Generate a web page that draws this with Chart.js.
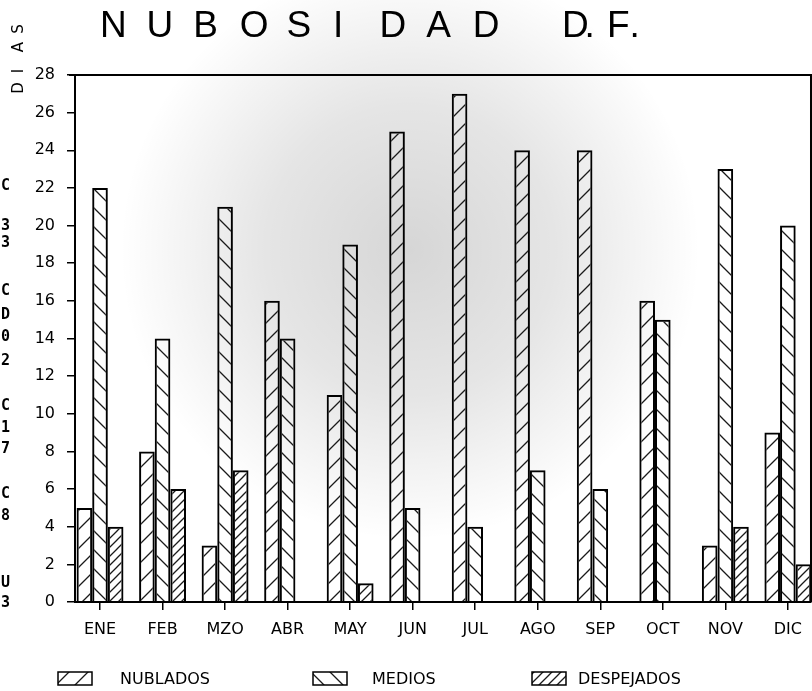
<!DOCTYPE html>
<html>
<head>
<meta charset="utf-8">
<script src="https://cdn.jsdelivr.net/npm/chart.js@4"></script>
<style>
html, body { margin: 0; padding: 0; background: #fff; }
</style>
</head>
<body>
<canvas id="canva_nubes" width="812" height="691"></canvas>
<script>
var meses = ['ENE', 'FEB', 'MZO', 'ABR', 'MAY', 'JUN', 'JUL', 'AGO', 'SEP', 'OCT', 'NOV', 'DIC'];
var nublados = [5, 8, 3, 16, 11, 25, 27, 24, 24, 16, 3, 9];
var medios = [22, 14, 21, 14, 19, 5, 4, 7, 6, 15, 23, 20];
var despejados = [4, 6, 7, 0, 1, 0, 0, 0, 0, 0, 4, 2];
var marcasY = [0, 2, 4, 6, 8, 10, 12, 14, 16, 18, 20, 22, 24, 26, 28];
var series = ['NUBLADOS', 'MEDIOS', 'DESPEJADOS'];
var titulo = 'NUBOSIDAD';
var subtitulo = 'D.F.';
var ejeY = 'DIAS';
// letras del borde de la hoja de al lado (se ven en el escaneo)
var bordeTxt = ['C', '3', '3', 'C', 'D', '0', '2', 'C', '1', '7', 'C', '8', 'U', '3'];

// rayados tipo plotter
function rayado(tam, sentido, grosor) {
    var c = document.createElement('canvas');
    c.width = tam; c.height = tam;
    var g = c.getContext('2d');
    g.strokeStyle = '#1a1a1a';
    g.lineWidth = grosor;
    g.beginPath();
    if (sentido > 0) {
        g.moveTo(0, tam); g.lineTo(tam, 0);
        g.moveTo(-2, 2); g.lineTo(2, -2);
        g.moveTo(tam - 2, tam + 2); g.lineTo(tam + 2, tam - 2);
    } else {
        g.moveTo(0, 0); g.lineTo(tam, tam);
        g.moveTo(-2, tam - 2); g.lineTo(2, tam + 2);
        g.moveTo(tam - 2, -2); g.lineTo(tam + 2, 2);
    }
    g.stroke();
    return g.createPattern(c, 'repeat');
}

function puntos(valores) {
    return valores.map(function (v, i) { return { x: i, y: v }; });
}

var fondo = {
    id: 'fondo',
    beforeDraw: function (chart) {
        var ctx = chart.ctx;
        ctx.save();
        ctx.fillStyle = '#fff';
        ctx.fillRect(0, 0, chart.width, chart.height);
        var gr = ctx.createRadialGradient(410, 250, 0, 410, 250, 290);
        gr.addColorStop(0, 'rgba(0,0,0,0.16)');
        gr.addColorStop(0.5, 'rgba(0,0,0,0.10)');
        gr.addColorStop(1, 'rgba(0,0,0,0)');
        ctx.fillStyle = gr;
        ctx.fillRect(0, 0, chart.width, chart.height);
        ctx.restore();
    }
};

var textos = {
    id: 'textos',
    afterDraw: function (chart) {
        var ctx = chart.ctx;
        var a = chart.chartArea;
        ctx.save();
        // marco superior y derecho
        ctx.strokeStyle = '#000';
        ctx.lineWidth = 2;
        ctx.beginPath();
        ctx.moveTo(a.left - 6, a.top);
        ctx.lineTo(a.right, a.top);
        ctx.lineTo(a.right, a.bottom);
        ctx.stroke();

        // titulo
        ctx.fillStyle = '#000';
        ctx.textBaseline = 'alphabetic';
        ctx.textAlign = 'left';
        ctx.font = '37px "Liberation Sans Narrow", "Liberation Sans", sans-serif';
        for (var i = 0; i < titulo.length; i++) {
            ctx.fillText(titulo[i], 100 + i * 46.6, 37);
        }
        for (var j = 0; j < subtitulo.length; j++) {
            ctx.fillText(subtitulo[j], 562 + j * 22.5, 37);
        }

        // DIAS vertical
        ctx.font = '15px "DejaVu Sans", sans-serif';
        ctx.textAlign = 'center';
        ctx.textBaseline = 'middle';
        var posDias = [88, 71, 47, 29];
        for (var k = 0; k < ejeY.length; k++) {
            ctx.save();
            ctx.translate(19, posDias[k]);
            ctx.rotate(-Math.PI / 2);
            ctx.fillText(ejeY[k], 0, 0);
            ctx.restore();
        }

        // borde izquierdo
        ctx.font = 'bold 15px "DejaVu Sans Mono", monospace';
        ctx.textAlign = 'left';
        var posBorde = [186, 226, 243, 291, 315, 337, 361, 406, 428, 449, 494, 516, 583, 603];
        for (var m = 0; m < bordeTxt.length; m++) {
            ctx.fillText(bordeTxt[m], 1, posBorde[m]);
        }

        // leyenda
        var cajas = [58, 313, 532];
        var letras = [120, 372, 578];
        ctx.font = '16px "DejaVu Sans", sans-serif';
        ctx.textBaseline = 'middle';
        chart.data.datasets.forEach(function (ds, n) {
            ctx.fillStyle = ds.backgroundColor;
            ctx.fillRect(cajas[n], 672, 34, 13);
            ctx.lineWidth = 1.5;
            ctx.strokeStyle = '#000';
            ctx.strokeRect(cajas[n], 672, 34, 13);
            ctx.fillStyle = '#000';
            ctx.fillText(ds.label, letras[n], 680);
        });
        ctx.restore();
    }
};

var ctx = document.getElementById('canva_nubes').getContext('2d');
var graficaNubes = new Chart(ctx, {
    type: 'bar',
    data: {
        datasets: [{
            label: series[0],
            data: puntos(nublados),
            backgroundColor: rayado(19, 1, 1.3),
            borderColor: '#000',
            borderWidth: 2,
            borderSkipped: 'bottom'
        }, {
            label: series[1],
            data: puntos(medios),
            backgroundColor: rayado(19, -1, 1.3),
            borderColor: '#000',
            borderWidth: 2,
            borderSkipped: 'bottom'
        }, {
            label: series[2],
            data: puntos(despejados),
            backgroundColor: rayado(9, 1, 1.3),
            borderColor: '#000',
            borderWidth: 2,
            borderSkipped: 'bottom'
        }]
    },
    options: {
        responsive: false,
        animation: false,
        categoryPercentage: 0.75,
        barPercentage: 1,
        layout: { padding: { top: 75, right: 1, left: 0, bottom: 0 } },
        plugins: {
            legend: { display: false },
            title: { display: false },
            tooltip: { enabled: false }
        },
        scales: {
            x: {
                type: 'linear',
                offset: false,
                min: -0.4,
                max: 11.37,
                afterBuildTicks: function (s) {
                    s.ticks = meses.map(function (m, i) { return { value: i }; });
                },
                afterFit: function (s) { s.height = 89; },
                grid: { offset: false, drawOnChartArea: false, tickLength: 8, color: '#000', lineWidth: 1.5 },
                border: { color: '#000', width: 2 },
                ticks: {
                    autoSkip: false,
                    maxRotation: 0,
                    padding: 10,
                    color: '#000',
                    font: { family: '"DejaVu Sans", sans-serif', size: 16 },
                    callback: function (v) { return meses[v]; }
                }
            },
            y: {
                min: 0,
                max: 28,
                afterBuildTicks: function (s) {
                    s.ticks = marcasY.map(function (v) { return { value: v }; });
                },
                afterFit: function (s) { s.width = 75; },
                grid: { drawOnChartArea: false, tickLength: 8, color: '#000', lineWidth: 1.5 },
                border: { color: '#000', width: 2 },
                ticks: {
                    padding: 12,
                    color: '#000',
                    font: { family: '"DejaVu Sans", sans-serif', size: 16 }
                }
            }
        }
    },
    plugins: [fondo, textos]
});
</script>
</body>
</html>
